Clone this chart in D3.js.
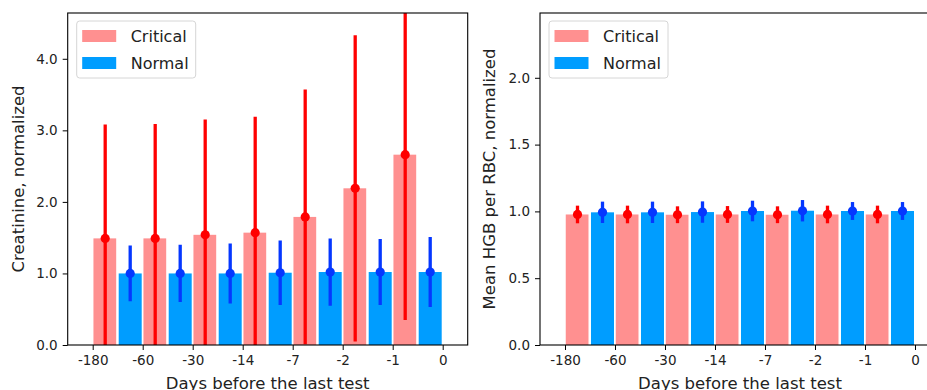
<!DOCTYPE html>
<html>
<head>
<meta charset="utf-8">
<script src="https://cdn.jsdelivr.net/npm/d3@7"></script>
<style>
  body { margin: 0; background: #fff; }
  svg { font-family: "DejaVu Sans", sans-serif; }
</style>
</head>
<body>
<svg id="svg" width="927" height="390"></svg>
<script>
// tick labels along x (7 groups sit between 8 ticks)
const categories = ["-180", "-60", "-30", "-14", "-7", "-2", "-1", "0"];

// creatinine panel
const creatCritical = [1.49, 1.49, 1.54, 1.57, 1.79, 2.19, 2.66];
const creatCriticalErr = [1.59, 1.60, 1.61, 1.62, 1.78, 2.14, 2.31];
const creatNormal = [1.00, 1.00, 1.00, 1.01, 1.02, 1.02, 1.02];
const creatNormalErr = [0.39, 0.40, 0.42, 0.45, 0.47, 0.46, 0.49];

// hgb panel
const hgbCritical = [0.977, 0.977, 0.975, 0.977, 0.975, 0.977, 0.977];
const hgbCriticalErr = [0.066, 0.066, 0.063, 0.063, 0.063, 0.066, 0.066];
const hgbNormal = [0.993, 0.993, 0.995, 1.003, 1.005, 1.003, 1.003];
const hgbNormalErr = [0.08, 0.08, 0.08, 0.077, 0.08, 0.067, 0.067];

const svg = d3.select('#svg');

function panel(opts) {
    const { left, right, top, bottom, ymax, yticks, ylabel, ylabelX, crit, critErr, norm, normErr, id } = opts;

    const x = d3.scaleLinear().domain([-0.5, 7.5]).range([left, right]);
    const y = d3.scaleLinear().domain([0, ymax]).range([bottom, top]);
    const unit = x(1) - x(0);

    svg.append('clipPath').attr('id', id)
        .append('rect').attr('x', left).attr('y', top)
        .attr('width', right - left).attr('height', bottom - top);

    const g = svg.append('g').attr('clip-path', `url(#${id})`);

    const rows = crit.map((v, i) => ({
        i: i, crit: v, critErr: critErr[i], norm: norm[i], normErr: normErr[i]
    }));

    // bars
    g.selectAll('rect.crit')
        .data(rows)
        .join('rect')
        .attr('class', 'crit')
        .attr('x', d => x(d.i + 0.015))
        .attr('width', unit * 0.455)
        .attr('y', d => y(d.crit))
        .attr('height', d => y(0) - y(d.crit))
        .attr('fill', '#ff9090');

    g.selectAll('rect.norm')
        .data(rows)
        .join('rect')
        .attr('class', 'norm')
        .attr('x', d => x(d.i + 0.52))
        .attr('width', unit * 0.46)
        .attr('y', d => y(d.norm))
        .attr('height', d => y(0) - y(d.norm))
        .attr('fill', '#009dff');

    // error bars
    g.selectAll('line.critErr')
        .data(rows)
        .join('line')
        .attr('x1', d => x(d.i + 0.25))
        .attr('x2', d => x(d.i + 0.25))
        .attr('y1', d => y(d.crit - d.critErr))
        .attr('y2', d => y(d.crit + d.critErr))
        .attr('stroke', '#ff0000')
        .attr('stroke-width', 3.3);

    g.selectAll('circle.crit')
        .data(rows)
        .join('circle')
        .attr('cx', d => x(d.i + 0.25))
        .attr('cy', d => y(d.crit))
        .attr('r', 4.6)
        .attr('fill', '#ff0000');

    g.selectAll('line.normErr')
        .data(rows)
        .join('line')
        .attr('x1', d => x(d.i + 0.75))
        .attr('x2', d => x(d.i + 0.75))
        .attr('y1', d => y(d.norm - d.normErr))
        .attr('y2', d => y(d.norm + d.normErr))
        .attr('stroke', '#0537ff')
        .attr('stroke-width', 3.3);

    g.selectAll('circle.norm')
        .data(rows)
        .join('circle')
        .attr('cx', d => x(d.i + 0.75))
        .attr('cy', d => y(d.norm))
        .attr('r', 4.6)
        .attr('fill', '#0537ff');

    // axes
    const xAxis = svg.append('g')
        .attr('transform', `translate(0,${bottom})`)
        .call(d3.axisBottom(x).tickValues(d3.range(categories.length))
            .tickFormat(i => categories[i]).tickSize(5).tickPadding(5).tickSizeOuter(0));
    const yAxis = svg.append('g')
        .attr('transform', `translate(${left},0)`)
        .call(d3.axisLeft(y).tickValues(yticks).tickFormat(d3.format('.1f'))
            .tickSize(5).tickPadding(5).tickSizeOuter(0));
    [xAxis, yAxis].forEach(a => {
        a.select('.domain').remove();
        a.selectAll('text').attr('font-size', 13.5).attr('fill', '#222')
            .attr('font-family', '"DejaVu Sans", sans-serif');
        a.selectAll('line').attr('stroke', '#000').attr('stroke-width', 1);
    });

    // frame
    svg.append('rect')
        .attr('x', left).attr('y', top)
        .attr('width', right - left).attr('height', bottom - top)
        .attr('fill', 'none').attr('stroke', '#000').attr('stroke-width', 1.1);

    // labels
    svg.append('text')
        .attr('x', (x(0) + x(7)) / 2).attr('y', 389)
        .attr('text-anchor', 'middle').attr('font-size', 16.5).attr('fill', '#222')
        .text('Days before the last test');
    svg.append('text')
        .attr('transform', `translate(${ylabelX},${(top + bottom) / 2}) rotate(-90)`)
        .attr('text-anchor', 'middle').attr('font-size', 16.5).attr('fill', '#222')
        .text(ylabel);

    // legend
    const lg = svg.append('g').attr('transform', `translate(${left + 9},21)`);
    lg.append('rect').attr('x', 0).attr('y', 0).attr('width', 119).attr('height', 57)
        .attr('rx', 3).attr('fill', '#fff').attr('fill-opacity', 0.8)
        .attr('stroke', '#d6d6d6').attr('stroke-width', 1);
    const items = [{ name: 'Critical', color: '#ff9090' }, { name: 'Normal', color: '#009dff' }];
    items.forEach((it, k) => {
        lg.append('rect').attr('x', 5.5).attr('y', 9 + k * 27)
            .attr('width', 34).attr('height', 12).attr('fill', it.color);
        lg.append('text').attr('x', 54).attr('y', 21 + k * 27)
            .attr('font-size', 16).attr('fill', '#222').text(it.name);
    });
}

panel({
    id: 'clipA', left: 67.7, right: 467.7, top: 13, bottom: 345, ymax: 4.64,
    yticks: [0, 1, 2, 3, 4], ylabel: 'Creatinine, normalized', ylabelX: 24,
    crit: creatCritical, critErr: creatCriticalErr, norm: creatNormal, normErr: creatNormalErr
});

panel({
    id: 'clipB', left: 540, right: 940, top: 13, bottom: 345, ymax: 2.485,
    yticks: [0, 0.5, 1, 1.5, 2], ylabel: 'Mean HGB per RBC, normalized', ylabelX: 494.5,
    crit: hgbCritical, critErr: hgbCriticalErr, norm: hgbNormal, normErr: hgbNormalErr
});
</script>
</body>
</html>
